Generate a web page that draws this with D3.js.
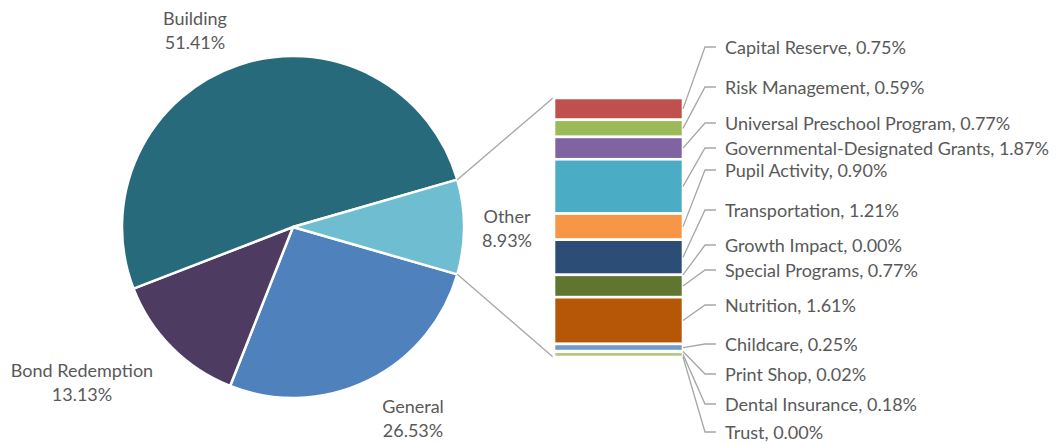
<!DOCTYPE html>
<html><head><meta charset="utf-8">
<script src="https://cdn.jsdelivr.net/npm/d3@7"></script>
<style>
body{margin:0;background:#fff}
svg{display:block}
text{font-family:Lato,'Open Sans',sans-serif;fill:#595959}
</style>
</head><body>
<svg id="c" width="1058" height="444"></svg>
<script>
// ---------- data ----------
const pieCategories = ["General", "Bond Redemption", "Building", "Other"];
const pieValues = [26.53, 13.13, 51.41, 8.93];
const pieColors = ["#4F81BD", "#4D3B62", "#276A7C", "#6FBDD1"];

const barCategories = ["Capital Reserve", "Risk Management", "Universal Preschool Program",
  "Governmental-Designated Grants", "Pupil Activity", "Transportation", "Growth Impact",
  "Special Programs", "Nutrition", "Childcare", "Print Shop", "Dental Insurance", "Trust"];
const barValues = [0.75, 0.59, 0.77, 1.87, 0.90, 1.21, 0.00, 0.77, 1.61, 0.25, 0.02, 0.18, 0.00];
const barColors = ["#C0504D", "#9BBB59", "#8064A2", "#4BACC6", "#F79646", "#2C4D75", "#772C2A",
  "#5F7530", "#B65708", "#729ACA", "#CD7371", "#AFC97A", "#9983B5"];

// ---------- layout ----------
const cx = 293, cy = 227, R = 171;
const barX0 = 554, barX1 = 683, barTop = 98, barBottom = 357;
const pieLabelAnchors = [[413, 413], [82, 377], [195, 25], [507, 223]]; // first-line baselines
const barLabelBaselines = [54, 94, 130, 155, 177, 217, 252, 277, 312, 351, 381, 411, 439];
const lineGap = 24;
const grey = "#A6A6A6";

const svg = d3.select("#c");
const fmt = v => v.toFixed(2) + "%";

// font size fitted to the reference width of one label
const probe = svg.append("text").attr("font-size", 100).text("Nutrition, 1.61%");
const fs = 100 * 131 / probe.node().getComputedTextLength();
probe.remove();

// ---------- pie ----------
const total = d3.sum(pieValues);
const otherHalf = (pieValues[3] / total) * Math.PI;
const start = Math.PI / 2 + otherHalf;
const pie = d3.pie().sort(null).value(d => d).startAngle(start).endAngle(start + 2 * Math.PI);
const arcs = pie(pieValues);
const arc = d3.arc().innerRadius(0).outerRadius(R);

const g = svg.append("g").attr("transform", `translate(${cx},${cy})`);
g.selectAll("path").data(arcs).join("path")
  .attr("d", arc)
  .attr("fill", (d, i) => pieColors[i])
  .attr("stroke", "#fff").attr("stroke-width", 2.5).attr("stroke-linejoin", "round");

// connector lines from "Other" slice to bar
const other = arcs[3];
const pt = a => [cx + R * Math.sin(a), cy - R * Math.cos(a)];
const pTop = pt(other.startAngle), pBot = pt(other.endAngle);
svg.append("line").attr("x1", pTop[0]).attr("y1", pTop[1]).attr("x2", barX0 - 1).attr("y2", barTop)
  .attr("stroke", grey).attr("stroke-width", 1.3);
svg.append("line").attr("x1", pBot[0]).attr("y1", pBot[1]).attr("x2", barX0 - 1).attr("y2", barBottom)
  .attr("stroke", grey).attr("stroke-width", 1.3);

// pie labels
pieCategories.forEach((c, i) => {
  const [x, y] = pieLabelAnchors[i];
  const t = svg.append("text").attr("text-anchor", "middle").attr("font-size", fs);
  t.append("tspan").attr("x", x).attr("y", y).text(c);
  t.append("tspan").attr("x", x).attr("y", y + lineGap).text(fmt(pieValues[i]));
});

// ---------- stacked bar ----------
const barTotal = d3.sum(barValues);
const y = d3.scaleLinear().domain([0, barTotal]).range([barTop, barBottom]);
const cum = d3.cumsum(barValues);
const segs = barValues.map((v, i) => ({v, y0: cum[i] - v, y1: cum[i], i}));

svg.append("g").selectAll("rect").data(segs.filter(d => d.v > 0)).join("rect")
  .attr("x", barX0).attr("width", barX1 - barX0)
  .attr("y", d => y(d.y0)).attr("height", d => y(d.y1) - y(d.y0))
  .attr("fill", d => barColors[d.i])
  .attr("stroke", "#fff").attr("stroke-width", 2.6);

// leader lines and labels
const lx0 = barX1, lElbow = 705, lEnd = 716, tx = 725;
segs.forEach((d, i) => {
  const ym = y((d.y0 + d.y1) / 2);
  const yl = barLabelBaselines[i] - 7;
  svg.append("polyline")
    .attr("points", `${lx0},${ym} ${lElbow},${yl} ${lEnd},${yl}`)
    .attr("fill", "none").attr("stroke", grey).attr("stroke-width", 1.3);
  svg.append("text").attr("x", tx).attr("y", barLabelBaselines[i]).attr("font-size", fs)
    .text(barCategories[i] + ", " + fmt(barValues[i]));
});
</script>
</body></html>
